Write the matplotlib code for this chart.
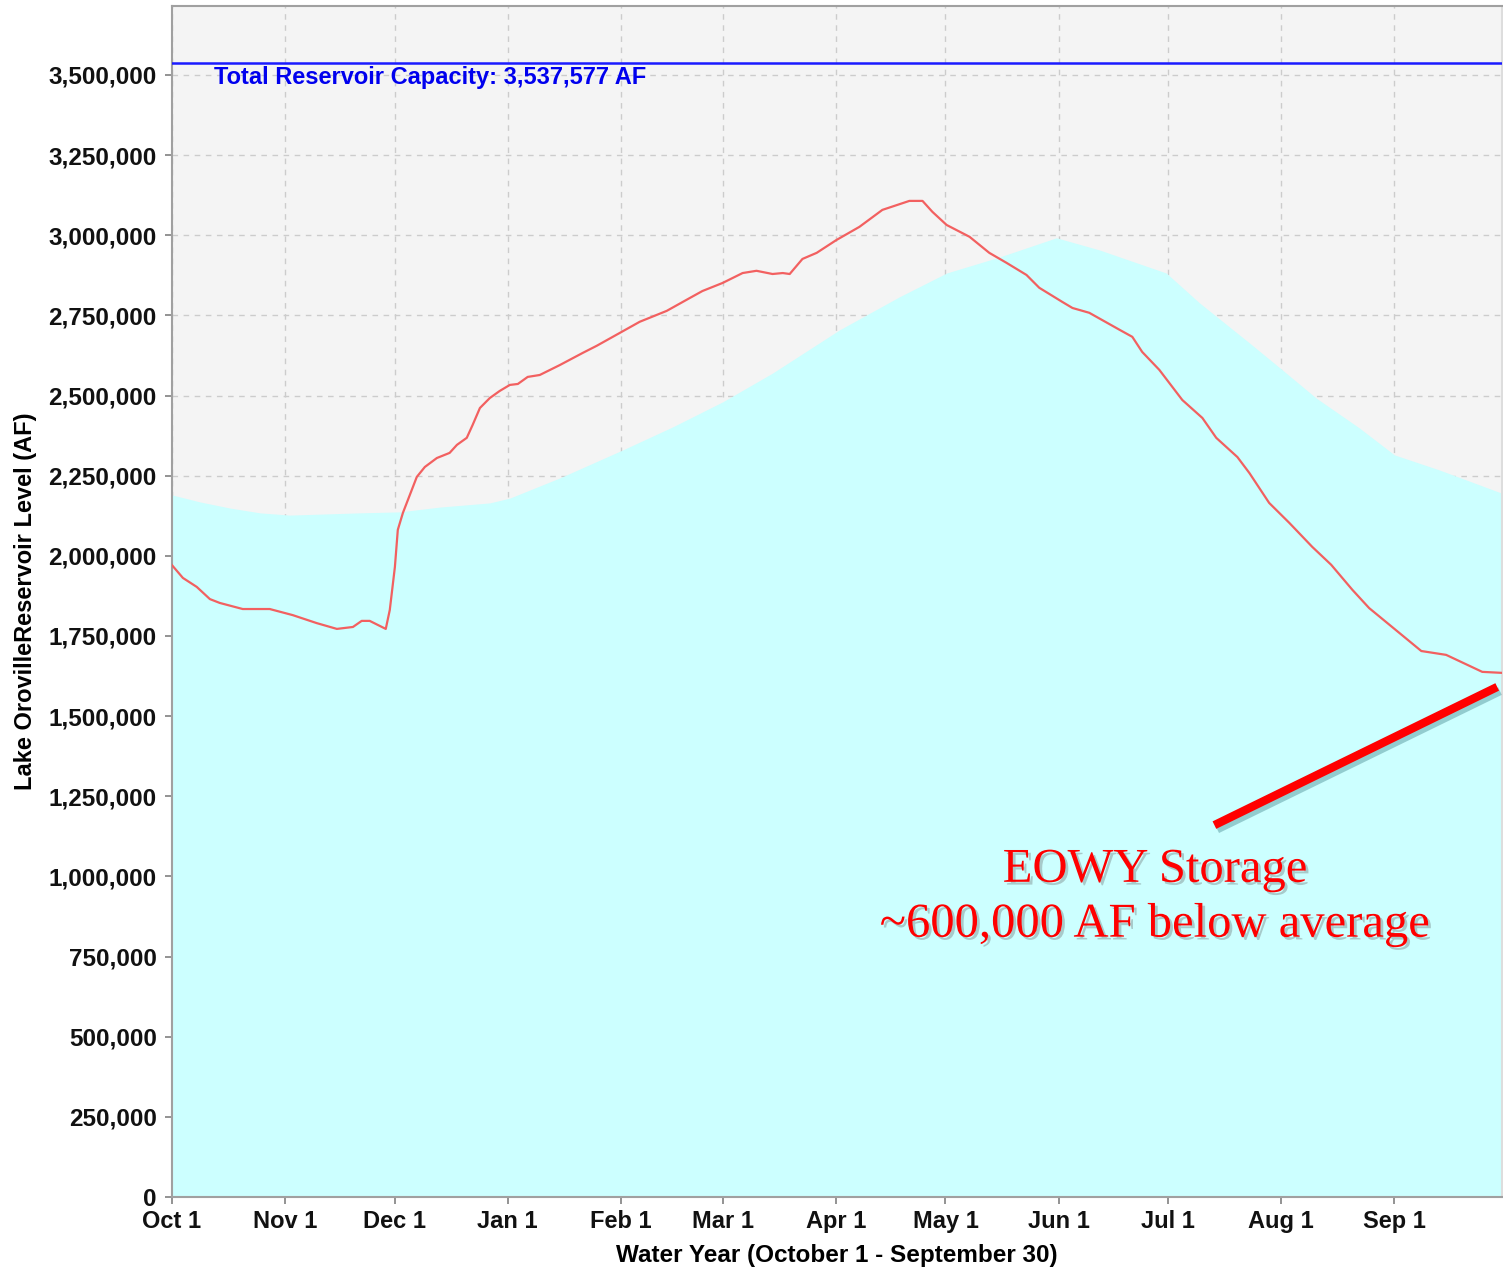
import numpy as np
import matplotlib
matplotlib.use("Agg")
import matplotlib.pyplot as plt
import matplotlib.patheffects as pe
from matplotlib.ticker import FuncFormatter

# day of water year (0 = Oct 1) and storage in acre-feet
storage_days = [0.0, 3.0, 6.8, 10.4, 13.1, 19.4, 26.8, 33.1, 39.7, 45.2, 49.6, 52.0, 54.2,
                58.6, 59.7, 61.1, 61.9, 63.3, 67.1, 69.3, 72.6, 76.1, 78.1, 80.8, 82.4,
                84.4, 87.1, 89.8, 92.6, 94.8, 97.5, 100.8, 106.3, 112.6, 116.4, 122.7,
                128.2, 135.6, 141.9, 145.4, 150.9, 156.4, 160.2, 164.6, 167.4, 169.3,
                172.8, 176.7, 182.1, 188.4, 194.7, 202.1, 205.7, 208.4, 212.3, 218.6,
                224.0, 228.7, 234.2, 237.7, 244.0, 246.8, 251.4, 259.7, 263.2, 265.9,
                270.6, 276.9, 282.4, 286.2, 292.0, 295.3, 300.7, 306.2, 312.5, 317.7,
                323.5, 328.1, 334.4, 342.4, 349.2, 359.1, 364.3]
storage_af = [1971000, 1931000, 1903000, 1865000, 1853000, 1834000, 1834000, 1815000,
              1790000, 1772000, 1778000, 1797000, 1797000, 1772000, 1831000, 1965000,
              2081000, 2134000, 2246000, 2277000, 2305000, 2321000, 2346000, 2368000,
              2408000, 2461000, 2492000, 2514000, 2533000, 2536000, 2558000, 2564000,
              2595000, 2633000, 2655000, 2695000, 2730000, 2764000, 2804000, 2826000,
              2851000, 2882000, 2889000, 2879000, 2882000, 2879000, 2926000, 2945000,
              2985000, 3026000, 3079000, 3107000, 3107000, 3073000, 3032000, 2995000,
              2945000, 2914000, 2876000, 2836000, 2792000, 2773000, 2758000, 2705000,
              2683000, 2636000, 2580000, 2486000, 2430000, 2368000, 2308000, 2258000,
              2165000, 2103000, 2028000, 1972000, 1894000, 1837000, 1778000, 1703000,
              1691000, 1638000, 1635000]

avg_days = [0.0, 7.7, 15.9, 24.1, 32.3, 43.3, 51.5, 62.4, 73.4, 87.1, 92.6, 106.3, 123.5,
            137.2, 150.9, 164.6, 183.0, 199.4, 212.3, 226.8, 242.4, 254.2, 272.5, 281.6,
            295.3, 304.3, 313.6, 325.4, 335.0, 347.3, 364.3]
avg_af = [2190000, 2168000, 2149000, 2134000, 2127000, 2131000, 2134000, 2137000,
          2152000, 2165000, 2180000, 2243000, 2330000, 2402000, 2480000, 2570000,
          2705000, 2808000, 2882000, 2932000, 2992000, 2954000, 2882000, 2789000,
          2664000, 2580000, 2492000, 2399000, 2315000, 2268000, 2196000]

capacity_af = 3537577

month_days = [0, 31, 61, 92, 123, 151, 182, 212, 243, 273, 304, 335]
month_labels = ["Oct 1", "Nov 1", "Dec 1", "Jan 1", "Feb 1", "Mar 1", "Apr 1",
                "May 1", "Jun 1", "Jul 1", "Aug 1", "Sep 1"]

# annotation pointer (day, AF)
pointer_start = (285.7, 1160000)
pointer_end = (363.2, 1591000)
note_pos = (269.5, 935000)

plt.rcParams['font.family'] = ['Liberation Sans', 'DejaVu Sans']

fig = plt.figure(figsize=(15.03, 12.73), dpi=100)
ax = fig.add_axes([0.1144, 0.0597, 0.8849, 0.9356])
ax.set_facecolor('#f4f4f4')

ax.fill_between(avg_days, avg_af, 0, color='#ccffff', linewidth=0, zorder=1)
ax.plot(storage_days, storage_af, color='#f26060', linewidth=1.6, zorder=3)
ax.axhline(capacity_af, color='#1a1aff', linewidth=1.8, zorder=3)
ax.text(11.5, capacity_af - 45000, "Total Reservoir Capacity: 3,537,577 AF",
        color='#0000ee', fontsize=17, fontweight='bold', va='center', ha='left',
        zorder=4)

ax.set_xlim(0, 364.5)
ax.set_ylim(0, 3715000)
ax.set_xticks(month_days, labels=month_labels)
ax.set_yticks(np.arange(0, 3500001, 250000))
ax.yaxis.set_major_formatter(FuncFormatter(lambda v, p: f"{int(v):,}"))
ax.grid(True, color='#cccccc', linestyle=(0, (4, 4)), linewidth=1.0)
ax.set_axisbelow(True)

for side in ['left', 'bottom', 'top', 'right']:
    ax.spines[side].set_color('#a0a0a0')
    ax.spines[side].set_linewidth(1.5)
ax.spines['right'].set_color('#dddddd')
ax.tick_params(axis='both', colors='#808080', length=5, width=1.2,
               labelcolor='#111111')
ax.tick_params(axis='y', labelsize=17.5, pad=6)
ax.tick_params(axis='x', labelsize=17, pad=4)
for lbl in ax.get_xticklabels() + ax.get_yticklabels():
    lbl.set_fontweight('bold')

ax.set_xlabel("Water Year (October 1 - September 30)", fontsize=17.5,
              fontweight='bold', labelpad=8)
ax.set_ylabel("Lake OrovilleReservoir Level (AF)", fontsize=17,
              fontweight='bold', labelpad=8)

shadow_line = [pe.SimpleLineShadow(offset=(2, -3), shadow_color='#5a9aa0', alpha=0.5),
               pe.Normal()]
ax.plot([pointer_start[0], pointer_end[0]], [pointer_start[1], pointer_end[1]],
        color='#ff0000', linewidth=6, solid_capstyle='butt', zorder=5,
        path_effects=shadow_line)

shadow_text = [pe.withSimplePatchShadow(offset=(2, -2), shadow_rgbFace='#7a8a8a',
                                        alpha=0.45)]
ax.text(note_pos[0], note_pos[1], "EOWY Storage\n~600,000 AF below average",
        family=['Liberation Serif', 'DejaVu Serif'], fontsize=35, color='#ff0000',
        ha='center', va='center', linespacing=1.3, zorder=6,
        path_effects=shadow_text)

fig.savefig("out.png", dpi=100)
